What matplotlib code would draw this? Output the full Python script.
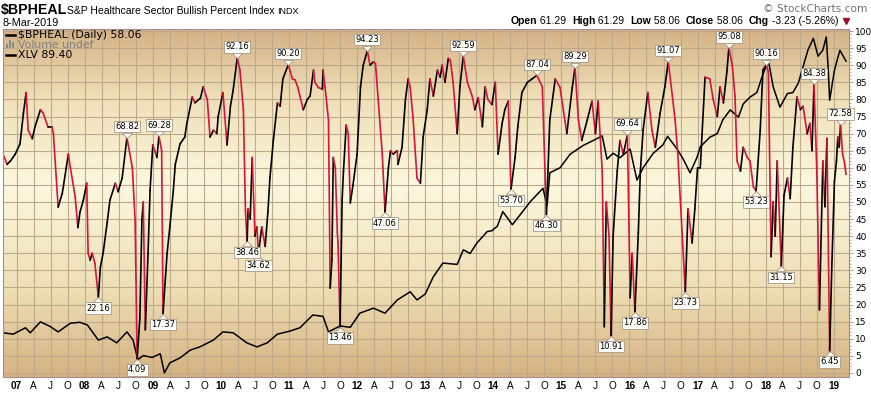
import numpy as np
import matplotlib.pyplot as plt
from matplotlib.collections import LineCollection
from matplotlib.lines import Line2D
from matplotlib.patches import Rectangle
from matplotlib.path import Path

plt.rcParams['font.family'] = 'DejaVu Sans'

# $BPHEAL daily close (decimal year, percent)
bp_t = [2006.80, 2006.86, 2006.91, 2006.98, 2007.05, 2007.10, 2007.14, 2007.17, 2007.23, 2007.27, 2007.35, 2007.39,
        2007.46, 2007.52, 2007.54, 2007.61, 2007.67, 2007.76, 2007.79, 2007.86, 2007.90, 2007.93, 2007.98,
        2008.03, 2008.05, 2008.08, 2008.11, 2008.15, 2008.20, 2008.23, 2008.27, 2008.33, 2008.37, 2008.45, 2008.49,
        2008.55, 2008.62, 2008.70, 2008.74, 2008.77, 2008.81, 2008.84, 2008.86, 2008.89, 2008.93, 2008.96,
        2009.00, 2009.06, 2009.09, 2009.13, 2009.15, 2009.21, 2009.25, 2009.30, 2009.33, 2009.40, 2009.47, 2009.50,
        2009.58, 2009.62, 2009.70, 2009.74, 2009.80, 2009.84, 2009.89, 2009.94, 2009.96,
        2010.03, 2010.09, 2010.14, 2010.18, 2010.24, 2010.28, 2010.33, 2010.36, 2010.385, 2010.40, 2010.43, 2010.46,
        2010.50, 2010.53, 2010.55, 2010.60, 2010.65, 2010.69, 2010.72, 2010.77, 2010.83, 2010.87, 2010.91, 2010.99,
        2011.05, 2011.09, 2011.13, 2011.16, 2011.21, 2011.27, 2011.31, 2011.36, 2011.38, 2011.43, 2011.49, 2011.50,
        2011.53, 2011.58, 2011.605, 2011.63, 2011.65, 2011.68, 2011.71, 2011.72, 2011.75, 2011.78, 2011.80, 2011.84,
        2011.87, 2011.90, 2011.94,
        2012.00, 2012.05, 2012.09, 2012.15, 2012.19, 2012.24, 2012.27, 2012.31, 2012.37, 2012.41, 2012.46, 2012.49,
        2012.53, 2012.59, 2012.60, 2012.66, 2012.71, 2012.75, 2012.78, 2012.82, 2012.88, 2012.93, 2012.97,
        2013.03, 2013.07, 2013.12, 2013.18, 2013.22, 2013.25, 2013.29, 2013.34, 2013.37, 2013.41, 2013.47, 2013.51,
        2013.56, 2013.62, 2013.69, 2013.73, 2013.78, 2013.84, 2013.88, 2013.92, 2013.98,
        2014.03, 2014.07, 2014.13, 2014.17, 2014.22, 2014.26, 2014.32, 2014.36, 2014.42, 2014.50, 2014.57, 2014.64,
        2014.72, 2014.78, 2014.83, 2014.91, 2014.98,
        2015.08, 2015.16, 2015.20, 2015.25, 2015.30, 2015.38, 2015.45, 2015.50, 2015.54, 2015.60, 2015.63, 2015.66,
        2015.70, 2015.73, 2015.76, 2015.82, 2015.86, 2015.91, 2015.97,
        2016.01, 2016.04, 2016.08, 2016.13, 2016.16, 2016.20, 2016.27, 2016.33, 2016.38, 2016.45, 2016.52, 2016.57,
        2016.63, 2016.67, 2016.71, 2016.82, 2016.86, 2016.92, 2016.96,
        2017.00, 2017.04, 2017.11, 2017.18, 2017.23, 2017.29, 2017.33, 2017.38, 2017.43, 2017.46, 2017.51, 2017.55,
        2017.58, 2017.63, 2017.67, 2017.73, 2017.77, 2017.82, 2017.86, 2017.92, 2017.96,
        2018.01, 2018.04, 2018.08, 2018.11, 2018.14, 2018.17, 2018.23, 2018.27, 2018.32, 2018.36, 2018.40, 2018.46,
        2018.51, 2018.55, 2018.61, 2018.65, 2018.68, 2018.71, 2018.75, 2018.79, 2018.84, 2018.87, 2018.90, 2018.94,
        2018.97, 2019.01, 2019.04, 2019.06, 2019.08, 2019.10, 2019.13, 2019.16, 2019.18]
bp_v = [64, 61, 62, 64, 67, 76, 82, 71, 68.5, 72, 77, 76,
        72, 72, 70, 48.5, 52.5, 64, 60, 51.5, 42.5, 47, 50.5,
        55.5, 35, 33, 35, 32, 22.16, 31, 35, 44, 50.5, 55.5, 53,
        57, 68.82, 60, 44.7, 4.09, 16, 44.7, 50, 12.6, 35, 53.5,
        66.7, 63, 69.28, 65, 17.37, 35, 42.7, 53, 61, 67, 69, 73,
        80.7, 79, 80.4, 83.7, 80, 69, 71, 70, 75,
        82, 66.7, 78, 82.7, 92.16, 88.6, 77, 47.7, 38.46, 48, 45, 63,
        40, 42.7, 34.62, 42.7, 37, 47, 57, 68, 79, 78, 86, 90.20,
        86, 85.7, 83.5, 81, 77, 80, 81, 88.6, 85, 83.5, 83, 88.6,
        83.5, 74, 24.8, 33, 63, 60, 41, 38, 13.46, 50.6, 59, 72.5,
        70, 49.7, 55,
        64, 83.7, 90, 94.23, 90, 91, 90.5, 80, 64, 47.06, 60, 65,
        64, 65, 61, 66, 80, 86, 83.5, 75, 57, 55.5, 69,
        77, 86, 81, 88.6, 86.5, 90, 85, 92, 91.5, 85, 70, 83.7,
        92.59, 85, 81, 77, 80.5, 72, 83.7, 80, 78.5,
        85, 64, 73, 77, 79.5, 53.70, 63, 72, 82, 85, 86, 87.04,
        83.7, 46.30, 74, 86, 83.5,
        70, 83.5, 89.29, 74, 68, 74, 79.5, 70, 79.5, 59, 13.5, 50,
        40, 10.91, 40, 59, 68, 64, 69.64,
        22, 35, 17.86, 41, 59, 71, 82, 71, 66, 76, 83.7, 91.07,
        81, 74, 64, 23.73, 48, 38, 48,
        60, 60, 86.5, 86, 80, 75, 83.7, 79, 88, 95.08, 90, 81,
        62, 59, 66, 63, 62, 54.4, 53.23, 71, 88.6,
        90.16, 88, 34, 50, 40, 62, 31.15, 52, 57, 51, 66, 80.7,
        77, 78, 70, 73, 65, 84.38, 60, 18.4, 62, 48.6, 68.6, 6.45,
        30, 56, 62, 69, 66, 72.58, 64, 61.29, 58.06]

# XLV close (overlay, own hidden scale)
xlv_t = [2006.80, 2006.95, 2007.13, 2007.20, 2007.35, 2007.49, 2007.61, 2007.79, 2007.93, 2008.04,
         2008.20, 2008.33, 2008.47, 2008.62, 2008.71, 2008.78, 2008.86, 2008.99, 2009.11, 2009.17,
         2009.25, 2009.40, 2009.55, 2009.69, 2009.89, 2010.03, 2010.18, 2010.38, 2010.53, 2010.68,
         2010.83, 2011.02, 2011.16, 2011.35, 2011.50, 2011.58, 2011.75, 2011.90, 2012.04, 2012.24,
         2012.41, 2012.59, 2012.78, 2012.88, 2013.00, 2013.12, 2013.26, 2013.47, 2013.56, 2013.66,
         2013.76, 2013.91, 2013.98, 2014.06, 2014.14, 2014.28, 2014.39, 2014.54, 2014.73, 2014.79,
         2014.83, 2014.98, 2015.13, 2015.32, 2015.47, 2015.60, 2015.67, 2015.76, 2015.86, 2016.01,
         2016.11, 2016.20, 2016.35, 2016.49, 2016.56, 2016.70, 2016.79, 2016.89, 2016.99, 2017.04,
         2017.18, 2017.29, 2017.37, 2017.48, 2017.60, 2017.67, 2017.77, 2017.87, 2017.96, 2018.04,
         2018.11, 2018.21, 2018.32, 2018.40, 2018.48, 2018.55, 2018.62, 2018.70, 2018.77, 2018.84,
         2018.89, 2018.92, 2018.94, 2019.01, 2019.09, 2019.18]
xlv_v = [29.8, 29.5, 30.9, 29.8, 32.2, 31.2, 30.0, 31.9, 32.1, 31.5,
         28.2, 28.9, 27.6, 30.0, 28.2, 23.9, 24.8, 24.4, 25.2, 21.0,
         23.2, 24.3, 26.0, 26.7, 28.2, 30.0, 29.8, 27.6, 26.7, 27.6,
         29.5, 30.2, 30.9, 33.7, 33.4, 30.0, 31.3, 31.0, 34.1, 35.2,
         34.1, 37.0, 38.8, 37.0, 38.3, 42.1, 45.1, 44.8, 48.0, 47.2,
         49.5, 52.0, 52.2, 53.2, 56.4, 53.5, 55.6, 58.5, 61.5, 57.7,
         64.9, 66.0, 69.0, 70.9, 72.0, 73.0, 67.9, 69.2, 68.2, 70.1,
         63.3, 66.0, 69.2, 71.0, 72.9, 70.1, 67.9, 64.9, 68.2, 70.6,
         72.7, 73.5, 76.5, 78.7, 77.1, 80.0, 81.5, 82.5, 86.5, 89.6,
         83.8, 79.3, 82.3, 82.5, 84.6, 88.2, 91.8, 94.4, 90.5, 91.8,
         94.7, 87.4, 80.8, 87.4, 91.8, 89.4]

# labelled highs / lows
peak_t = [2008.62, 2009.09, 2010.24, 2010.99, 2012.15, 2013.56, 2014.64, 2015.20, 2015.97, 2016.57,
          2017.46, 2018.01, 2018.71, 2019.10]
peak_v = [68.82, 69.28, 92.16, 90.20, 94.23, 92.59, 87.04, 89.29, 69.64, 91.07, 95.08, 90.16, 84.38, 72.58]
low_t = [2008.20, 2008.77, 2009.15, 2010.385, 2010.55, 2011.75, 2012.41, 2014.26, 2014.78, 2015.73,
         2016.08, 2016.82, 2017.86, 2018.23, 2018.94]
low_v = [22.16, 4.09, 17.37, 38.46, 34.62, 13.46, 47.06, 53.70, 46.30, 10.91, 17.86, 23.73, 53.23, 31.15, 6.45]

years = list(range(2007, 2020))
month_labels = ['A', 'J', 'O']

W, H = 871, 396
fig = plt.figure(figsize=(W / 100, H / 100), dpi=100)
fig.patch.set_facecolor('white')

x0, x1 = 2006.80, 2019.224
y0, y1 = -1.2, 100.6
rect = [3 / W, 1 - 377 / H, 846 / W, 348 / H]
red = '#d8143a'
gridc = '#bda98c'
axc = '#a88c8c'

# background: tan -> cream -> tan, plus the grid
bg = fig.add_axes(rect)
stops = [0.0, 0.25, 0.55, 0.8, 1.0]
cols = np.array([[213, 178, 130], [238, 222, 180], [252, 248, 222], [240, 224, 184], [212, 178, 134]]) / 255
yy = np.linspace(0, 1, 300)
grad = np.stack([np.interp(yy, stops, cols[:, i]) for i in range(3)], axis=-1)[::-1, None, :]
bg.imshow(np.repeat(grad, 2, axis=1), extent=[x0, x1, y0, y1], aspect='auto', interpolation='bilinear')
for q in np.arange(2007, 2019.01, 0.25):
    bg.axvline(q, color=gridc, lw=0.8)
for h in range(0, 101, 5):
    bg.axhline(h, color=gridc, lw=0.8)
bg.set_xlim(x0, x1)
bg.set_ylim(y0, y1)
bg.axis('off')

# XLV overlay
axx = fig.add_axes(rect)
axx.patch.set_visible(False)
axx.plot(xlv_t, xlv_v, color='black', lw=1.1)
axx.set_xlim(x0, x1)
axx.set_ylim(20.1, 96.45)
axx.axis('off')

# main axes
ax = fig.add_axes(rect)
ax.patch.set_visible(False)
pts = np.column_stack([bp_t, bp_v])
segs = np.stack([pts[:-1], pts[1:]], axis=1)
seg_cols = np.where(np.diff(bp_v) >= 0, 'black', red)
ax.add_collection(LineCollection(segs, colors=seg_cols, linewidths=1.2, capstyle='round', joinstyle='round'))
ax.set_xlim(x0, x1)
ax.set_ylim(y0, y1)

# labels for highs and lows
down = Path([(0, 0), (-1, 1), (1, 1), (0, 0)])
up = Path([(0, 0), (-1, -1), (1, -1), (0, 0)])
ms = 7
box = dict(boxstyle='square,pad=0.15', fc='#fcfcf6', ec='#a89888', lw=0.6)
ax.plot(peak_t, peak_v, ls='none', marker=down, ms=ms, mfc='#fcfcf6', mec='#a89888', mew=0.6, zorder=5)
ax.plot(low_t, low_v, ls='none', marker=up, ms=ms, mfc='#fcfcf6', mec='#a89888', mew=0.6, zorder=5)
for t, v in zip(peak_t, peak_v):
    ax.annotate(f'{v:.2f}', (t, v), xytext=(0, 0.5 * ms + 1.2), textcoords='offset points',
                ha='center', va='bottom', fontsize=6, bbox=box, zorder=6)
for t, v in zip(low_t, low_v):
    ax.annotate(f'{v:.2f}', (t, v), xytext=(0, -0.5 * ms - 1.2), textcoords='offset points',
                ha='center', va='top', fontsize=6, bbox=box, zorder=6)

# axes styling
for s in ax.spines.values():
    s.set_color(axc)
    s.set_linewidth(0.8)
ax.yaxis.tick_right()
ax.set_yticks(range(0, 101, 5))
ax.set_yticks(range(0, 101, 1), minor=True)
ax.tick_params(axis='y', which='major', length=3, width=0.6, color=axc, labelsize=6.5, pad=1.5)
ax.tick_params(axis='y', which='minor', length=1.5, width=0.5, color=axc)

xt, xl = [], []
for y in years:
    xt.append(y)
    xl.append(f'{y % 100:02d}')
    if y < 2019:
        for k, m in enumerate(month_labels):
            xt.append(y + 0.25 * (k + 1))
            xl.append(m)
ax.set_xticks(xt)
ax.set_xticklabels(xl)
ax.tick_params(axis='x', length=0, pad=3, labelsize=7.2)
for lab in ax.get_xticklabels():
    lab.set_family('Liberation Sans')
    if lab.get_text().isdigit():
        lab.set_fontweight('bold')

# legend inside plot
ax.plot([0.004, 0.014], [0.983, 0.983], transform=ax.transAxes, color='black', lw=1.8)
ax.text(0.018, 0.983, '\\$BPHEAL (Daily) 58.06', transform=ax.transAxes, fontsize=7.8, va='center')
for i, hgt in enumerate([0.5, 1.0, 0.75]):
    ax.add_patch(Rectangle((0.004 + i * 0.0035, 0.945), 0.0025, 0.022 * hgt, transform=ax.transAxes,
                           color='#8a8a8a', lw=0))
ax.text(0.018, 0.954, 'Volume undef', transform=ax.transAxes, fontsize=7.8, va='center', color='#808080')
ax.plot([0.004, 0.014], [0.925, 0.925], transform=ax.transAxes, color='black', lw=1.8)
ax.text(0.018, 0.925, 'XLV 89.40', transform=ax.transAxes, fontsize=7.8, va='center')

# header
def px(x, y):
    return x / W, 1 - y / H

fig.text(*px(1, 10), '\\$BPHEAL', fontsize=10.2, fontweight='bold', va='center', family='Liberation Sans')
fig.text(*px(67, 11), 'S&P Healthcare Sector Bullish Percent Index', fontsize=7.5, va='center',
         family='Liberation Sans')
fig.text(*px(277, 12), 'INDX', fontsize=6.5, va='center', family='Liberation Sans')
fig.text(*px(2, 23), '8-Mar-2019', fontsize=7.8, va='center', family='Liberation Sans')
fig.text(*px(867, 9), '\u00a9 StockCharts.com', fontsize=7.6, va='center', ha='right', color='#707070')

parts = [('Open', True), (' 61.29  ', False), ('High', True), (' 61.29  ', False), ('Low', True),
         (' 58.06  ', False), ('Close', True), (' 58.06  ', False), ('Chg', True), (' -3.23 (-5.26%)', False)]
r = fig.canvas.get_renderer()
hdr = []
for s, b in parts:
    hdr.append(fig.text(0, 1 - 21 / H, s, fontsize=7.5, fontweight='bold' if b else 'normal', va='center',
                        family='Liberation Sans'))
widths = [t.get_window_extent(r).width for t in hdr]
xp = 838 - sum(widths)
for t, w in zip(hdr, widths):
    t.set_x(xp / W)
    xp += w
fig.add_artist(Line2D([px(846, 21)[0]], [px(846, 21)[1]], marker='v', color='#9c1030', ms=5,
                      transform=fig.transFigure))

fig.savefig('out.png', dpi=100)
